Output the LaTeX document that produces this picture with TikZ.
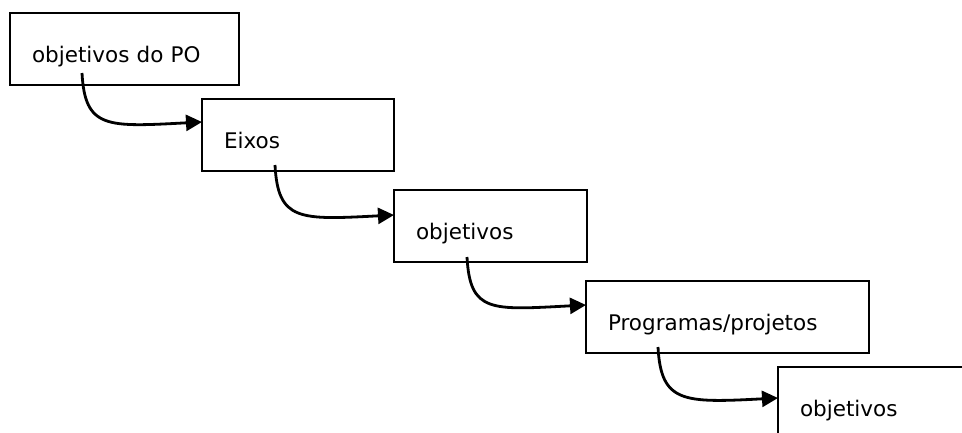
\documentclass[tikz,border=0pt]{standalone}
\usepackage{fontspec}
\setmainfont{DejaVu Sans}
\usetikzlibrary{arrows.meta,calc}
\begin{document}
\begin{tikzpicture}[x=1pt,y=-1pt,
  box/.style={draw=black, line width=2.3pt, rectangle, anchor=north west, outer sep=0pt,
    inner xsep=22pt, inner ysep=0pt, text height=49pt, text depth=23pt, align=left,
    font=\fontsize{21.5}{25}\selectfont},
  flow/.style={line width=2.8pt, -{Triangle[length=16pt,width=16pt]}}]
\useasboundingbox (0,0) rectangle (962,432);
\clip (0,0) rectangle (962,432);
\node[box, text width=185pt] (b1) at (10,13) {objetivos do PO};
\node[box, text width=148pt] (b2) at (202,99) {Eixos};
\node[box, text width=149pt] (b3) at (394,190) {objetivos};
\node[box, text width=239pt] (b4) at (586,281) {Programas/projetos};
\node[box, text width=185pt] (b5) at (778,367) {objetivos};
\coordinate (s1) at ($(b1.north west)+(72,60)$);
\coordinate (e1) at ($(b2.north west)+(0,23)$);
\coordinate (s2) at ($(b2.north west)+(73,66)$);
\coordinate (e2) at ($(b3.north west)+(0,25)$);
\coordinate (s3) at ($(b3.north west)+(73,67)$);
\coordinate (e3) at ($(b4.north west)+(0,24)$);
\coordinate (s4) at ($(b4.north west)+(72,66)$);
\coordinate (e4) at ($(b5.north west)+(0,31)$);
\draw[flow] (s1) .. controls +(3,56) and +(-95,5) .. (e1);
\draw[flow] (s2) .. controls +(3,56) and +(-95,5) .. (e2);
\draw[flow] (s3) .. controls +(3,56) and +(-95,5) .. (e3);
\draw[flow] (s4) .. controls +(3,56) and +(-95,5) .. (e4);
\end{tikzpicture}
\end{document}
